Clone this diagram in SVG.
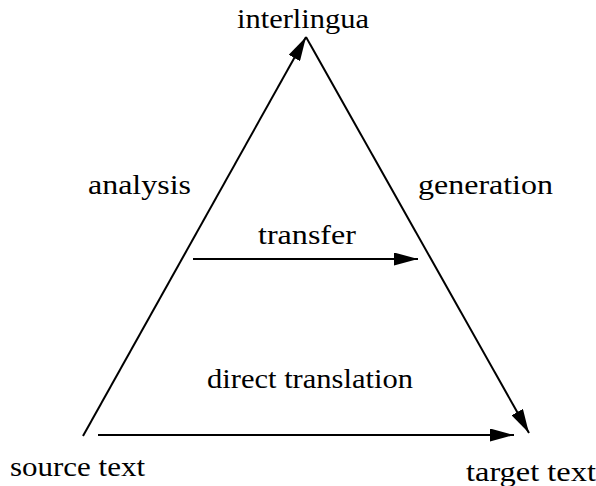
<svg xmlns="http://www.w3.org/2000/svg" width="596" height="486" viewBox="0 0 596 486">
  <style>
    .lbl { font-family: "Liberation Serif", "DejaVu Serif", serif; font-size: 28px; fill: #000; }
  </style>
  <defs>
    <marker id="arrow" viewBox="0 0 24 13" refX="24" refY="6.5" markerWidth="24" markerHeight="13" markerUnits="userSpaceOnUse" orient="auto">
      <path d="M0,0 L24,6.5 L0,13 Z" fill="#000"/>
    </marker>
  </defs>
  <rect width="596" height="486" fill="#fff"/>

  <!-- triangle sides and the two horizontal arrows -->
  <g id="connectors" stroke="#000" stroke-width="2" fill="none">
    <line x1="83" y1="436" x2="306" y2="37" marker-end="url(#arrow)"/>
    <line x1="306" y1="37" x2="529" y2="433" marker-end="url(#arrow)"/>
    <line x1="193" y1="259" x2="418" y2="259" marker-end="url(#arrow)"/>
    <line x1="98" y1="435" x2="514" y2="435" marker-end="url(#arrow)"/>
  </g>

  <g id="interlingua"><text class="lbl" x="237" y="28" textLength="132" lengthAdjust="spacingAndGlyphs">interlingua</text></g>
  <g id="analysis"><text class="lbl" x="88" y="194" textLength="103" lengthAdjust="spacingAndGlyphs">analysis</text></g>
  <g id="generation"><text class="lbl" x="418" y="194" textLength="135" lengthAdjust="spacingAndGlyphs">generation</text></g>
  <g id="transfer"><text class="lbl" x="258" y="244" textLength="98" lengthAdjust="spacingAndGlyphs">transfer</text></g>
  <g id="direct-translation"><text class="lbl" x="207" y="388" textLength="206" lengthAdjust="spacingAndGlyphs">direct translation</text></g>
  <g id="source-text"><text class="lbl" x="10" y="476" textLength="135" lengthAdjust="spacingAndGlyphs">source text</text></g>
  <g id="target-text"><text class="lbl" x="466" y="481" textLength="130" lengthAdjust="spacingAndGlyphs">target text</text></g>
</svg>
